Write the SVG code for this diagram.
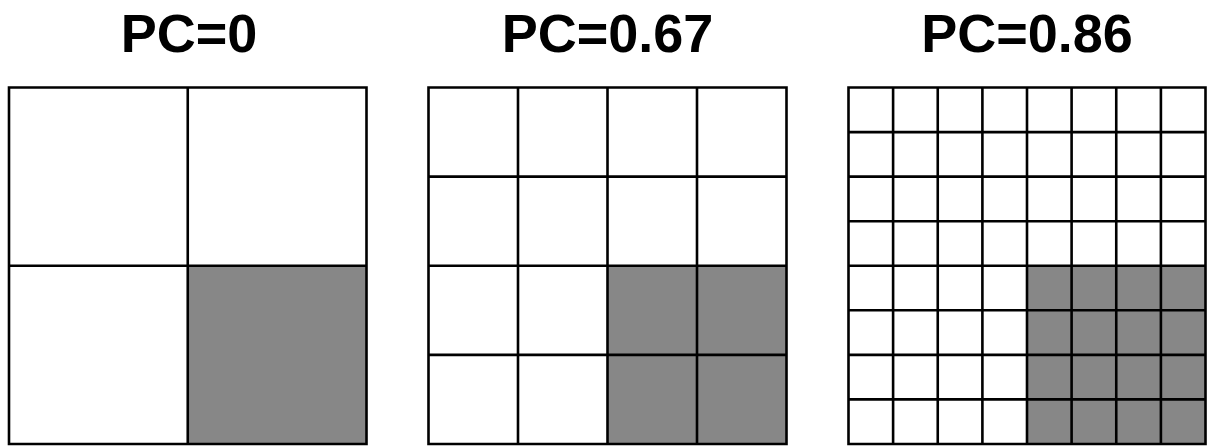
<svg xmlns="http://www.w3.org/2000/svg" width="1208" height="446" viewBox="0 0 1208 446">
<style>
.t{font-family:"Liberation Sans",Arial,sans-serif;font-weight:bold;font-size:54px;fill:#000;text-anchor:middle}
.g{fill:#878787;stroke:none}
.l{stroke:#000;stroke-width:2.6;fill:none}
</style>
<rect width="1208" height="446" fill="#fff"/>
<g id="panel1">
<text class="t" x="189" y="52">PC=0</text>
<rect class="g" x="187.75" y="265.75" width="178.75" height="178.25"/>
<path class="l" d="M9 87.5H366.5V444H9Z M187.75 87.5V444 M9 265.75H366.5"/>
</g>
<g id="panel2">
<text class="t" x="607.5" y="52">PC=0.67</text>
<rect class="g" x="607.5" y="265.75" width="179" height="178.25"/>
<path class="l" d="M428.5 87.5H786.5V444H428.5Z M518 87.5V444 M607.5 87.5V444 M697 87.5V444 M428.5 176.6H786.5 M428.5 265.75H786.5 M428.5 354.9H786.5"/>
</g>
<g id="panel3">
<text class="t" x="1027" y="52">PC=0.86</text>
<rect class="g" x="1027" y="265.75" width="178.5" height="178.25"/>
<path class="l" d="M848.5 87.5H1205.5V444H848.5Z M893.1 87.5V444 M937.75 87.5V444 M982.4 87.5V444 M1027 87.5V444 M1071.6 87.5V444 M1116.25 87.5V444 M1160.9 87.5V444 M848.5 132.1H1205.5 M848.5 176.6H1205.5 M848.5 221.2H1205.5 M848.5 265.75H1205.5 M848.5 310.3H1205.5 M848.5 354.9H1205.5 M848.5 399.4H1205.5"/>
</g>
</svg>
